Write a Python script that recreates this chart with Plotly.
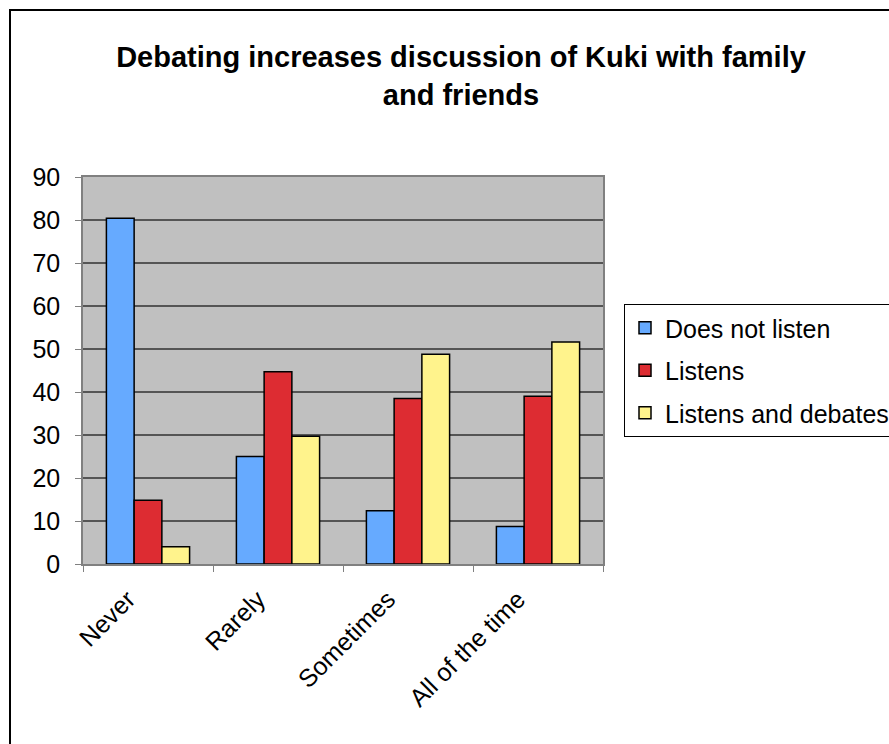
import plotly.graph_objects as go

# Survey responses: how often people discuss Kuki with family and friends
categories = ["Never", "Rarely", "Sometimes", "All of the time"]
does_not_listen = [80.4, 25.0, 12.4, 8.7]
listens = [14.8, 44.7, 38.5, 39.0]
listens_and_debates = [4.0, 29.7, 48.8, 51.6]

series_names = ["Does not listen", "Listens", "Listens and debates"]
series_values = [does_not_listen, listens, listens_and_debates]
series_colors = ["#66AAFF", "#DD2C32", "#FFF38C"]

y_ticks = [0, 10, 20, 30, 40, 50, 60, 70, 80, 90]

FONT = "Liberation Sans, Arial, sans-serif"

fig = go.Figure()
for i, (name, vals, col) in enumerate(zip(series_names, series_values, series_colors)):
    fig.add_trace(go.Bar(
        x=categories, y=vals, name=name,
        marker=dict(color=col, line=dict(color="black", width=1.5)),
        legendgroup=f"g{i}",
    ))

W, H = 889, 744
L, R, T, B = 83, 603, 177, 564  # plot area in pixels
pw, ph = R - L, B - T

def px_x(p):
    return (p - L) / pw

def px_y(p):
    return (B - p) / ph

fig.update_layout(
    width=W, height=H,
    margin=dict(l=L, r=W - R, t=T, b=H - B, autoexpand=False),
    paper_bgcolor="white",
    plot_bgcolor="#C0C0C0",
    barmode="group",
    bargap=0.36,
    bargroupgap=0,
    font=dict(family=FONT, size=25, color="black"),
    title=dict(
        text="<b>Debating increases discussion of Kuki with family<br>and friends</b>",
        font=dict(family=FONT, size=29, color="black"),
        x=461 / W, xanchor="center", xref="container",
        y=1 - 67 / H, yanchor="top", yref="container",
    ),
    legend=dict(
        x=px_x(624), y=px_y(304), xanchor="left", yanchor="top",
        bgcolor="white", bordercolor="black", borderwidth=1,
        font=dict(family=FONT, size=25, color="black"),
        tracegroupgap=7,
        itemwidth=30,
    ),
    showlegend=True,
    xaxis=dict(
        showline=True, linecolor="#808080", linewidth=1.5, mirror=True,
        ticks="outside", tickson="boundaries", ticklen=6, tickcolor="#808080",
        tickangle=-45, showgrid=False,
        ticklabelshift=-20, ticklabelstandoff=9,
        tickfont=dict(family=FONT, size=25, color="black"),
    ),
    yaxis=dict(
        range=[0, 90], tickvals=y_ticks, ticktext=[str(v) for v in y_ticks],
        showline=True, linecolor="#808080", linewidth=1.5, mirror=True,
        ticks="outside", ticklen=6, tickcolor="#808080",
        showgrid=True, gridcolor="#555555", gridwidth=1.5,
        zeroline=False,
        ticklabelstandoff=10,
        tickfont=dict(family=FONT, size=25, color="black"),
    ),
    shapes=[dict(
        type="rect", xref="paper", yref="paper",
        x0=px_x(10), y0=px_y(760), x1=px_x(905), y1=px_y(10),
        line=dict(color="black", width=2), fillcolor="rgba(0,0,0,0)",
        layer="above",
    )],
)

fig.write_html("out.html")
